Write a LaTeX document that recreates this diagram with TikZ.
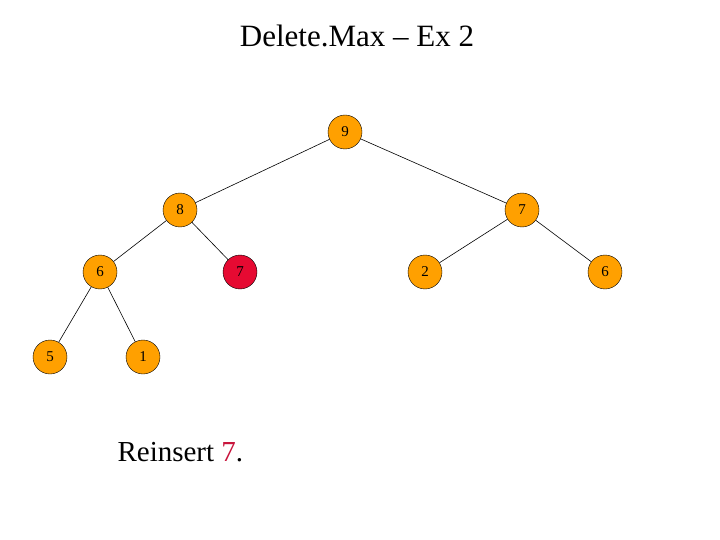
\documentclass[tikz,border=0pt]{standalone}
\usepackage{fontspec}
\setmainfont{Liberation Serif}
\definecolor{nodeor}{RGB}{255,160,0}
\definecolor{nodered}{RGB}{230,10,50}
\definecolor{txtred}{RGB}{200,20,60}
\begin{document}
\begin{tikzpicture}[x=1pt,y=-1pt,
  hn/.style={circle,draw=black,fill=nodeor,minimum size=34pt,inner sep=0pt,font=\fontsize{15}{15}\selectfont},
  rn/.style={hn,fill=nodered},
  ed/.style={draw=black,line width=0.6pt}]
\useasboundingbox (0,0) rectangle (720,540);
\node at (357,36) {\fontsize{31}{31}\selectfont Delete.Max -- Ex 2};
\node[hn] (a) at (345,132) {9};
\node[hn] (b) at (180,210) {8};
\node[hn] (c) at (522,210) {7};
\node[hn] (d) at (100,272) {6};
\node[rn] (e) at (240,272) {7};
\node[hn] (f) at (425,272) {2};
\node[hn] (g) at (605,272) {6};
\node[hn] (h) at (50,357) {5};
\node[hn] (i) at (143,357) {1};
\draw[ed] (a)--(b); \draw[ed] (a)--(c);
\draw[ed] (b)--(d); \draw[ed] (b)--(e);
\draw[ed] (c)--(f); \draw[ed] (c)--(g);
\draw[ed] (d)--(h); \draw[ed] (d)--(i);
\node[anchor=west] (t) at (114,452) {\fontsize{29}{29}\selectfont Reinsert \textcolor{txtred}{7}.};
\end{tikzpicture}
\end{document}
